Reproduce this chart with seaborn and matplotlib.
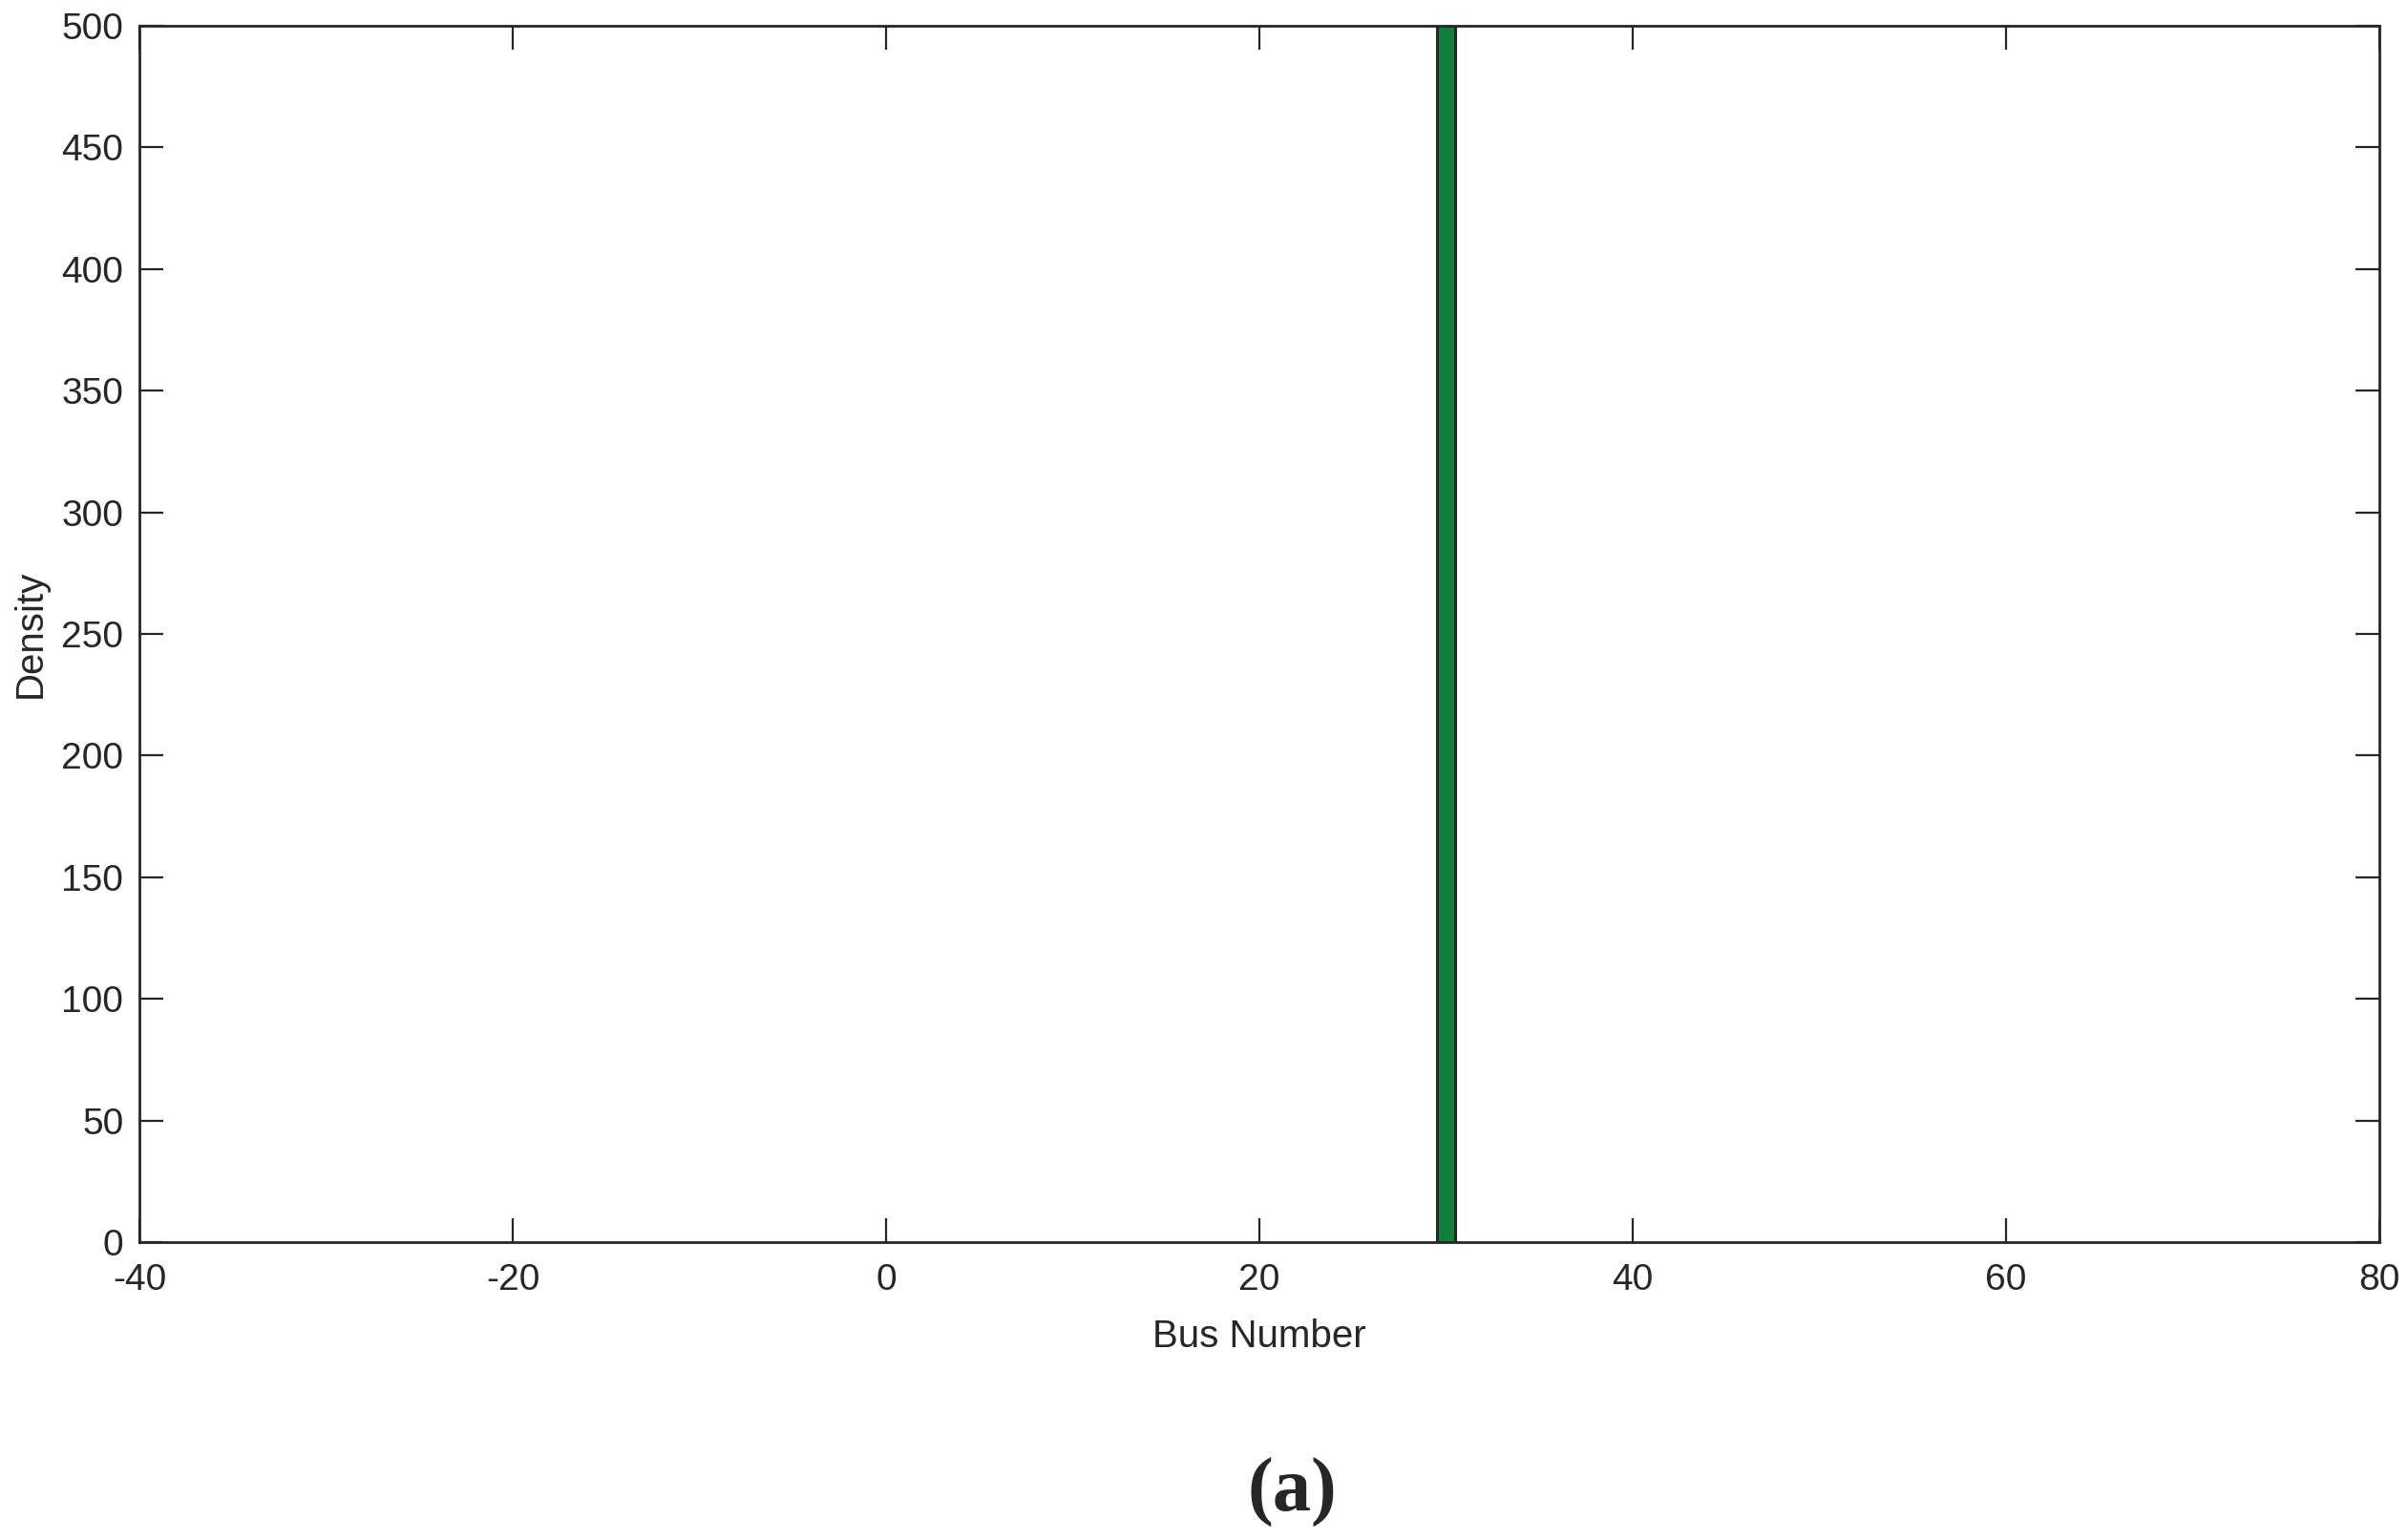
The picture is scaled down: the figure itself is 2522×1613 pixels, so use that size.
import pandas as pd
import matplotlib
matplotlib.use("Agg")
import matplotlib.pyplot as plt
import seaborn as sns

# Daten: ein einziger Bus, Balken über die Achse hinaus abgeschnitten
bus_number = [30]
density = [600]
x_ticks = [-40, -20, 0, 20, 40, 60, 80]
y_ticks = [0, 50, 100, 150, 200, 250, 300, 350, 400, 450, 500]

sns.set_theme(style="white")
plt.rcParams['font.family'] = ['Liberation Sans', 'DejaVu Sans']

df = pd.DataFrame({'bus': bus_number, 'density': density})

fig = plt.figure(figsize=(25.22, 16.13), dpi=100)
ax = fig.add_axes([146 / 2522, 1 - 1301 / 1613, (2492 - 146) / 2522, (1301 - 27) / 1613])

sns.histplot(data=df, x='bus', weights='density', binwidth=1, binrange=(29.5, 30.5),
             color='#117f3d', alpha=1, edgecolor='#262626', linewidth=2.2, ax=ax)

ax.set_xlim(-40, 80)
ax.set_ylim(0, 500)
ax.set_xticks(x_ticks)
ax.set_yticks(y_ticks)
ax.set_xticklabels([str(t) for t in x_ticks])
ax.tick_params(direction='in', length=18, width=1.6, color='#262626',
               bottom=True, left=True, top=True, right=True,
               labelsize=28, labelcolor='#262626')
ax.tick_params(axis='x', pad=16)
ax.tick_params(axis='y', pad=12)
for s in ax.spines.values():
    s.set_color('#262626')
    s.set_linewidth(2)
ax.set_xlabel('Bus Number', fontsize=29, color='#262626', labelpad=16)
ax.set_ylabel('Density', fontsize=29, color='#262626', labelpad=10)

fig.text(1353 / 2522, 1 - 1563 / 1613, '(a)', ha='center', va='center',
         fontsize=58, fontweight='bold', family=['Liberation Serif', 'DejaVu Serif'])

fig.savefig('out.png', dpi=100)
